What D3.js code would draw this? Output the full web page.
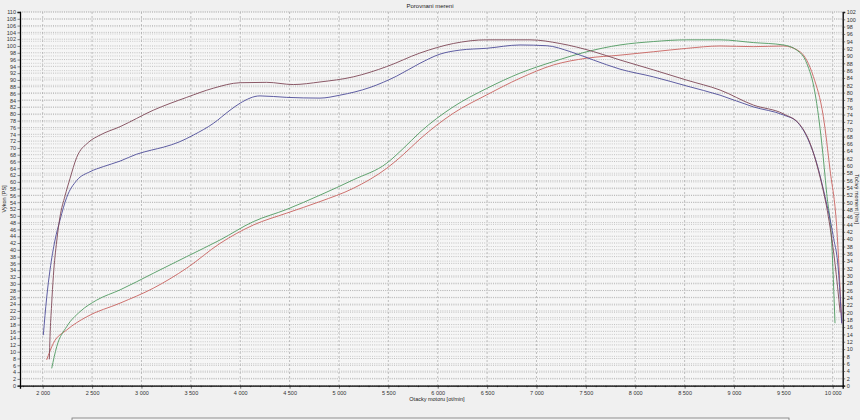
<!DOCTYPE html>
<html><head><meta charset="utf-8">
<script src="https://cdn.jsdelivr.net/npm/d3@7"></script>
<style>
html,body{margin:0;padding:0;background:#f0f0f0;}
svg{display:block;font-family:"Liberation Sans",Arial,sans-serif;}
</style></head>
<body>
<svg id="c" width="860" height="420"></svg>
<script>
// ---- data ----
const title = "Porovnani mereni";
const xTitle = "Otacky motoru [ot/min]";
const yLeftTitle = "Výkon [PS]";
const yRightTitle = "Točivý moment [Nm]";
const xTicks = [2000,2500,3000,3500,4000,4500,5000,5500,6000,6500,7000,7500,8000,8500,9000,9500,10000];

// torque curves (right axis, Nm)
const torqueBlueRpm = [2006,2040,2074,2125,2175,2243,2344,2479,2614,2783,2952,3100,3222,3380,3525,3728,3897,3998,4200,4471,4808,5010,5314,5584,5820,6023,6225,6496,6833,7104,7340,7576,7846,8184,8522,8859,9196,9500,9635,9737,9838,9922,10006,10057,10091];
const torqueBlue    = [13.8,24.0,31.6,39.8,45.2,51.4,56.0,58.4,59.8,61.3,63.2,64.3,65.1,66.5,68.4,71.6,75.2,77.1,79.1,78.7,78.5,79.3,81.4,84.5,88.0,90.5,91.6,92.1,93.0,92.8,91.2,88.9,86.4,84.3,81.8,79.3,76.1,73.9,72.1,68.0,60.7,51.6,40.7,31.6,17.0];
const torqueRedRpm  = [2067,2074,2090,2108,2142,2175,2226,2276,2344,2462,2580,2783,3120,3458,3728,3998,4268,4538,4808,5145,5484,5820,6158,6496,6935,7239,7576,7846,8184,8522,8859,9196,9500,9669,9770,9871,9956,10023,10075];
const torqueRed     = [7.2,13.4,22.0,30.0,39.5,46.1,51.8,56.5,62.3,66.4,68.4,70.7,75.2,78.7,81.2,82.7,82.8,82.2,82.9,84.3,87.1,90.8,93.4,94.4,94.4,93.4,91.2,88.9,86.2,83.4,80.7,76.6,74.2,71.2,66.2,57.0,46.1,33.4,20.0];

// power curves (left axis, PS)
const powerGreenRpm = [2091,2142,2243,2378,2547,2783,3120,3458,3796,4133,4471,4808,5145,5484,5650,5820,6158,6496,6833,7171,7509,7846,8184,8522,8859,9196,9500,9635,9737,9821,9889,9939,9990,10023];
const powerGreen    = [5.1,11.5,17.4,21.8,25.2,28.2,33.1,38.0,42.9,48.3,51.9,56.1,60.6,65.5,69.8,74.6,82.1,87.5,92.0,95.4,98.3,100.3,101.3,101.8,101.8,101.0,100.3,98.8,94.9,86.1,71.4,56.6,41.9,18.4];
const powerRedRpm   = [2040,2108,2243,2446,2783,3120,3458,3796,4133,4471,4808,5145,5484,5650,5820,6158,6496,6833,7171,7509,7846,8184,8522,8859,9196,9500,9669,9804,9905,9973,10040,10091];
const powerRed      = [7.6,12.5,16.4,20.3,24.3,28.7,34.6,41.9,47.3,50.8,54.2,58.1,64.0,68.0,72.6,80.2,85.6,90.5,94.4,96.4,97.3,98.3,99.3,100.0,99.8,100.0,98.3,91.0,79.2,63.5,46.8,18.4];

const leftTicks = d3.range(0, 111, 2);
const rightTicks = d3.range(0, 103, 2);

// ---- layout ----
const svg = d3.select("#c");
const L = 20, R = 842.7, T = 12, B = 385.7;
const x = d3.scaleLinear().domain([1770, 10101]).range([L, R]);
const yL = d3.scaleLinear().domain([0, 110]).range([B, T]);
const yR = d3.scaleLinear().domain([0, 102]).range([B, T]);

svg.append("rect").attr("width",860).attr("height",420).attr("fill","#f0f0f0");
svg.append("rect").attr("x",L).attr("y",T).attr("width",R-L).attr("height",B-T).attr("fill","#f6f6f6");

// grid
const g = svg.append("g");
g.selectAll("line.gl").data(leftTicks).join("line")
  .attr("x1",L).attr("x2",R).attr("y1",d=>yL(d)).attr("y2",d=>yL(d))
  .attr("stroke","#9a9a9a").attr("stroke-width",0.6).attr("stroke-dasharray","1,1.2");
g.selectAll("line.gr").data(rightTicks).join("line")
  .attr("x1",L).attr("x2",R).attr("y1",d=>yR(d)).attr("y2",d=>yR(d))
  .attr("stroke","#b0b0b0").attr("stroke-width",0.6).attr("stroke-dasharray","1,1.2");
g.selectAll("line.gx").data(xTicks).join("line")
  .attr("x1",d=>x(d)).attr("x2",d=>x(d)).attr("y1",T).attr("y2",B)
  .attr("stroke","#a8a8a8").attr("stroke-width",0.7).attr("stroke-dasharray","2,2");

// axes
const fmt = d => d3.format(",")(d).replace(/,/g," ");
const xAxis = d3.axisBottom(x).tickValues(xTicks).tickFormat(fmt).tickSize(3).tickPadding(2);
const xMinor = d3.axisBottom(x).tickValues(d3.range(1800, 10101, 100)).tickFormat("").tickSize(1.5);
const ax = svg.append("g").attr("transform",`translate(0,${B})`).call(xMinor);
const ax2 = svg.append("g").attr("transform",`translate(0,${B})`).call(xAxis);
const aL = svg.append("g").attr("transform",`translate(${L},0)`).call(d3.axisLeft(yL).tickValues(leftTicks).tickSize(2.5).tickPadding(1.5));
const aR = svg.append("g").attr("transform",`translate(${R},0)`).call(d3.axisRight(yR).tickValues(rightTicks).tickSize(2.5).tickPadding(1.5));
[ax,ax2,aL,aR].forEach(a=>{
  a.select(".domain").attr("stroke","#000").attr("stroke-width",1.3);
  a.selectAll(".tick line").attr("stroke","#333").attr("stroke-width",0.6);
  a.selectAll(".tick text").attr("font-size","5.5px").attr("fill","#333").attr("font-family","Liberation Sans, Arial, sans-serif");
});
ax.select(".domain").remove();

// series
const line = (xs, ys, yScale) => d3.line().curve(d3.curveMonotoneX)
  .x((d,i)=>x(xs[i])).y(d=>yScale(d))(ys);
const series = [
  {rpm: powerRedRpm, v: powerRed, y: yL, color: "#c8625f"},
  {rpm: powerGreenRpm, v: powerGreen, y: yL, color: "#4f9a60"},
  {rpm: torqueBlueRpm, v: torqueBlue, y: yR, color: "#4d4c98"},
  {rpm: torqueRedRpm, v: torqueRed, y: yR, color: "#7e4656"},
];
svg.append("g").selectAll("path").data(series).join("path")
  .attr("d", s => line(s.rpm, s.v, s.y))
  .attr("fill","none").attr("stroke", s=>s.color).attr("stroke-width",0.9);

// texts
svg.append("text").attr("x",430).attr("y",8).attr("text-anchor","middle").attr("font-size","6px").attr("fill","#222").text(title);
svg.append("text").attr("x",437).attr("y",401).attr("text-anchor","middle").attr("font-size","5.5px").attr("fill","#222").text(xTitle);
svg.append("text").attr("transform","translate(6,199) rotate(-90)").attr("text-anchor","middle").attr("font-size","5.5px").attr("fill","#222").text(yLeftTitle);
svg.append("text").attr("transform","translate(855,199) rotate(90)").attr("text-anchor","middle").attr("font-size","5.5px").attr("fill","#222").text(yRightTitle);

// legend box (cut off at bottom)
svg.append("rect").attr("x",72).attr("y",418).attr("width",717).attr("height",20).attr("fill","#f4f4f4").attr("stroke","#777").attr("stroke-width",0.8);
</script>
</body></html>
